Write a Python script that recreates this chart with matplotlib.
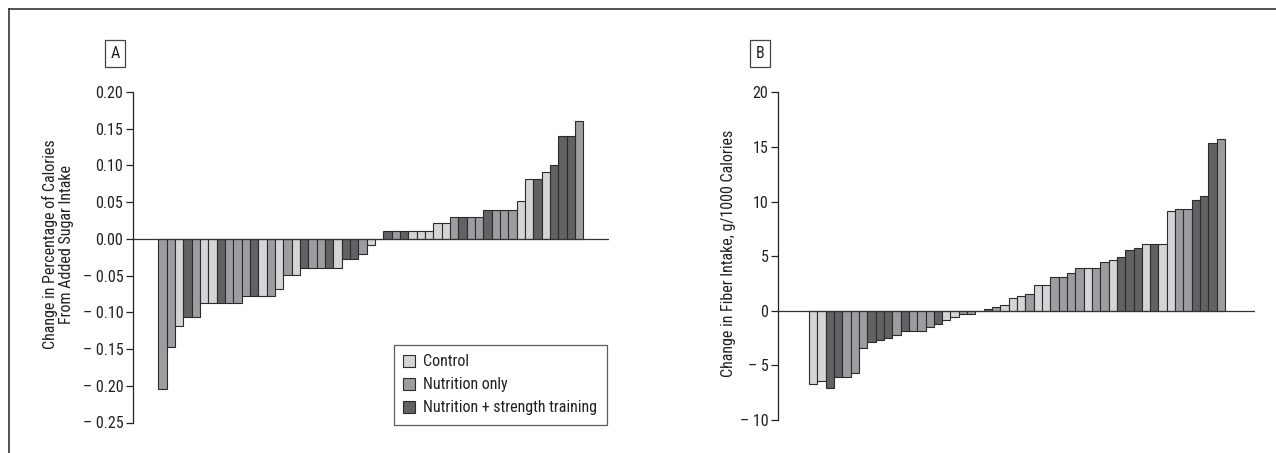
import matplotlib
matplotlib.use("Agg")
import matplotlib.pyplot as plt
from matplotlib import font_manager
from matplotlib.lines import Line2D
from matplotlib.patches import Patch
from matplotlib.ticker import FuncFormatter

# the original uses a condensed grotesque; take a narrow face if one is installed
names = {f.name for f in font_manager.fontManager.ttflist}
narrow = [n for n in names if ("Narrow" in n or "Condensed" in n) and "Mono" not in n
          and "Serif" not in n]
narrow.sort(key=lambda n: (0 if "Liberation" in n else 1 if "Roboto" in n else 2, n))
plt.rcParams["font.family"] = narrow[:1] + ["Roboto", "DejaVu Sans"]

# group codes: C = control, N = nutrition only, S = nutrition + strength training
groups_a = list("NNCSNCCSNNNSCNCNCSNNSCSSNC" "C" "SNSCCCCCNSNNSNNNCCSCSSSN")
sugar = [-0.205, -0.147, -0.118, -0.106, -0.106, -0.087, -0.087, -0.087, -0.087, -0.087,
         -0.078, -0.078, -0.078, -0.078, -0.068, -0.049, -0.049, -0.040, -0.040, -0.040,
         -0.040, -0.040, -0.027, -0.027, -0.020, -0.008,
         0.0,
         0.011, 0.011, 0.011, 0.011, 0.011, 0.011, 0.022, 0.022, 0.030, 0.030,
         0.030, 0.030, 0.040, 0.040, 0.040, 0.040, 0.052, 0.082, 0.082, 0.091,
         0.100, 0.140, 0.140, 0.160]

groups_b = list("CCSSNNNSSSNSNNNSCCNN" "C" "SNCCCNCCNNNNCNNCSSSCSCCNNSSSN")
fiber = [-6.70, -6.45, -7.10, -6.06, -6.06, -5.65, -3.44, -2.90, -2.68, -2.50,
         -2.23, -1.86, -1.86, -1.86, -1.45, -1.20, -0.82, -0.60, -0.26, -0.26,
         0.0,
         0.17, 0.35, 0.58, 1.15, 1.35, 1.55, 2.35, 2.35, 3.14, 3.14,
         3.50, 3.93, 3.93, 3.93, 4.51, 4.70, 4.91, 5.55, 5.73, 6.12,
         6.12, 6.12, 9.11, 9.36, 9.36, 10.18, 10.55, 15.36, 15.76]

labels = {"C": "Control", "N": "Nutrition only", "S": "Nutrition + strength training"}
colors = {"C": "#d4d5d7", "N": "#9b9da0", "S": "#616264"}
EDGE = "#2b2b2b"
TXT = "#231f20"
FS = 11.5

W, H = 1276, 453
fig = plt.figure(figsize=(W / 100, H / 100), dpi=100)


def px_axes(l, r, t, b):
    return fig.add_axes([l / W, 1 - b / H, (r - l) / W, (b - t) / H])


def minus_fmt(dec):
    def f(v, pos):
        s = f"{abs(v):.{dec}f}"
        return ("\u2013 " + s) if v < -1e-9 else s
    return FuncFormatter(f)


def style(ax, vals, grp, xlim, ylim, ticks, dec):
    x = range(len(vals))
    ax.bar(x, vals, width=1.0, color=[colors[g] for g in grp],
           edgecolor=EDGE, linewidth=0.8, zorder=2)
    ax.axhline(0, color="#333333", lw=0.9, zorder=3)
    ax.set_xlim(*xlim)
    ax.set_ylim(*ylim)
    ax.set_yticks(ticks)
    ax.yaxis.set_major_formatter(minus_fmt(dec))
    for s in ("top", "right", "bottom"):
        ax.spines[s].set_visible(False)
    ax.spines["left"].set_linewidth(0.9)
    ax.spines["left"].set_color("#222222")
    ax.set_xticks([])
    ax.tick_params(axis="y", length=5, width=0.9, color="#222222",
                   labelsize=FS, labelcolor=TXT, pad=2)
    ax.patch.set_alpha(0)


# panel A
axA = px_axes(133, 609, 92, 422.5)
style(axA, sugar, groups_a, (-3.54, 53.58), (-0.25, 0.20),
      [0.20, 0.15, 0.10, 0.05, 0.0, -0.05, -0.10, -0.15, -0.20, -0.25], 2)
axA.text((58 - 133) / 476, 0.54,
         "Change in Percentage of Calories\nFrom Added Sugar Intake",
         transform=axA.transAxes, rotation=90, ha="center", va="center",
         fontsize=FS, color=TXT, linespacing=1.05)

# panel B
axB = px_axes(778, 1255, 92.5, 420)
style(axB, fiber, groups_b, (-4.23, 53.1), (-10, 20),
      [20, 15, 10, 5, 0, -5, -10], 0)
axB.text(-0.104, 0.509, "Change in Fiber Intake, g/1000 Calories",
         transform=axB.transAxes, rotation=90, ha="center", va="center",
         fontsize=FS, color=TXT)

# panel letters
for lab, cx, cy in (("A", 115, 53.5), ("B", 760, 53.5)):
    fig.text(cx / W, 1 - cy / H, lab, ha="center", va="center", fontsize=FS,
             color=TXT,
             bbox=dict(boxstyle="square,pad=0.35", fc="white", ec="#444444", lw=0.9))

# legend
handles = [Patch(facecolor=colors[k], edgecolor=EDGE, linewidth=0.8, label=labels[k])
           for k in ("C", "N", "S")]
leg = fig.legend(handles=handles, loc="lower right",
                 bbox_to_anchor=(606.7 / W, 1 - 425 / H), fontsize=FS,
                 frameon=True, fancybox=False, handlelength=0.75, handleheight=0.75,
                 handletextpad=0.5, borderpad=0.6, labelspacing=0.5,
                 borderaxespad=0, labelcolor=TXT)
leg.get_frame().set_edgecolor("#333333")
leg.get_frame().set_linewidth(0.9)

# outer frame (left and top only)
fig.add_artist(Line2D([9 / W, 9 / W], [0, 1 - 9 / H], color="#333333", lw=1.2,
                      transform=fig.transFigure))
fig.add_artist(Line2D([9 / W, 1], [1 - 9 / H, 1 - 9 / H], color="#333333", lw=1.2,
                      transform=fig.transFigure))

fig.savefig("out.png", dpi=100)
